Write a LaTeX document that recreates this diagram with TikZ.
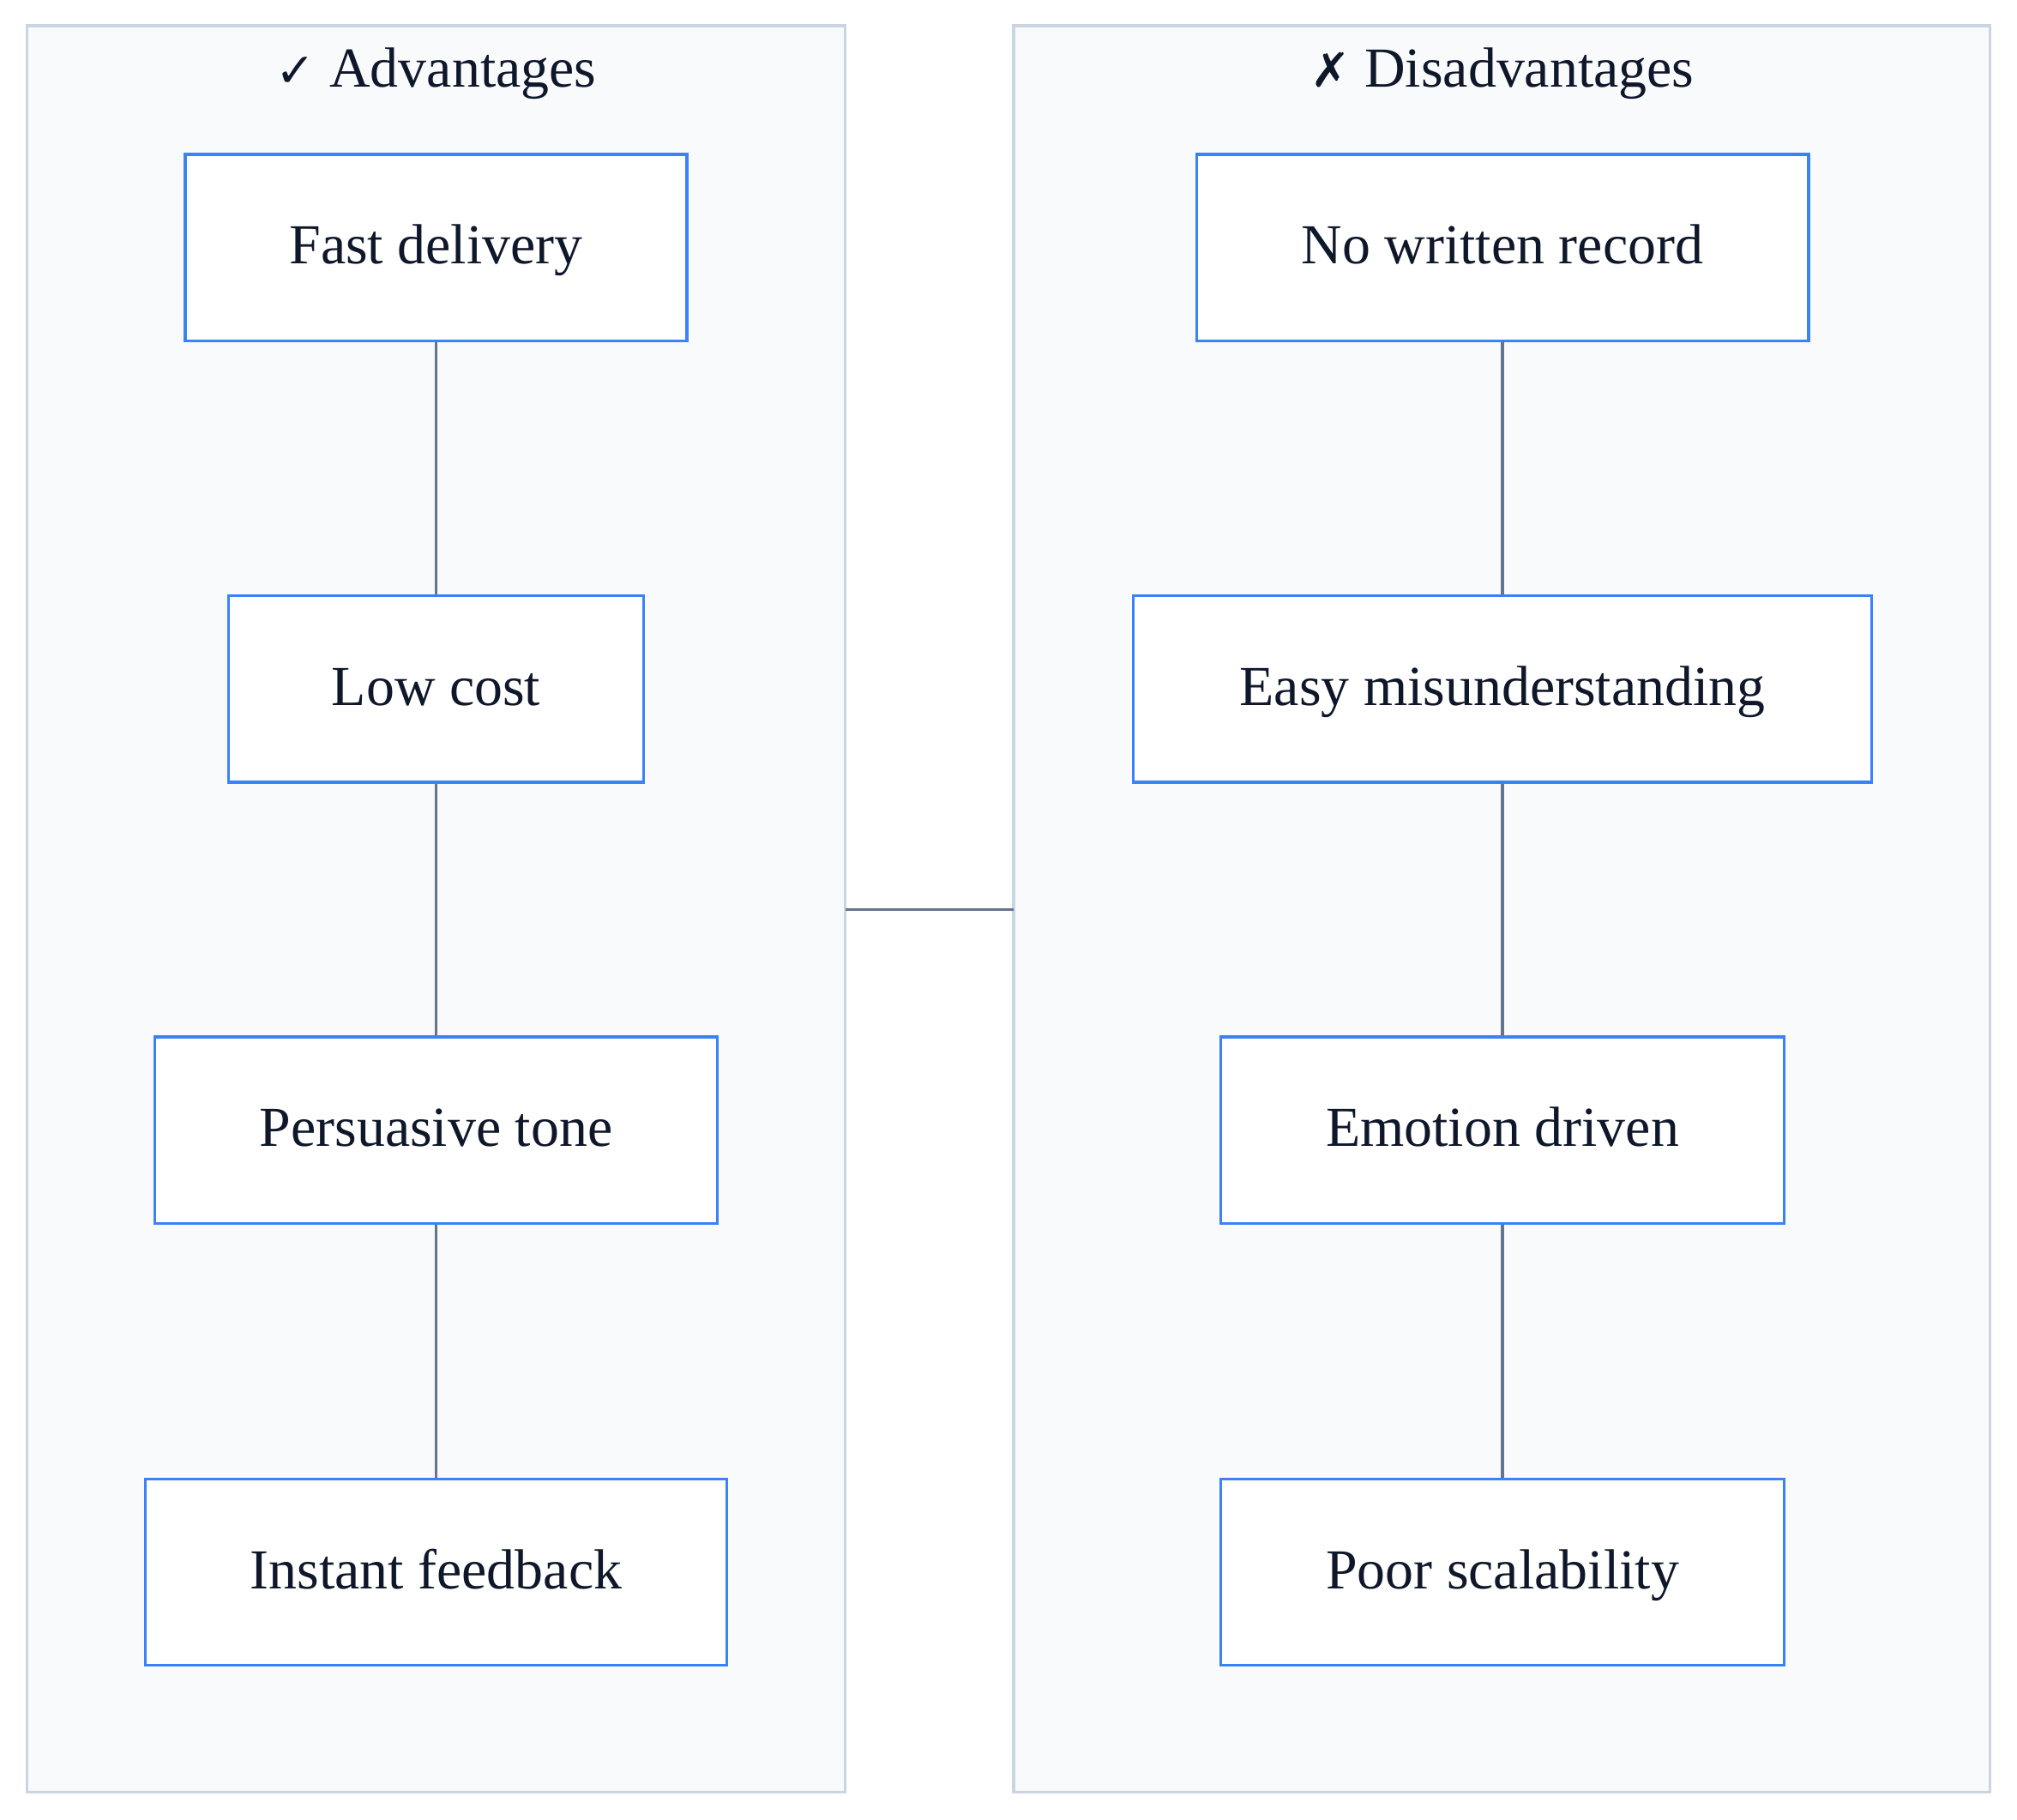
\documentclass[tikz,border=0pt]{standalone}
\usepackage{fontspec}
\setmainfont{Liberation Serif}
\newfontfamily\symfont{DejaVu Sans}
\usetikzlibrary{positioning}
\definecolor{panelfill}{HTML}{F8FAFC}
\definecolor{paneldraw}{HTML}{CBD5E1}
\definecolor{boxdraw}{HTML}{3B82F6}
\definecolor{linkgray}{HTML}{64748B}
\definecolor{inktext}{HTML}{0F172A}
\tikzset{
  panel/.style={draw=paneldraw,fill=panelfill,line width=1.2pt},
  item/.style={draw=boxdraw,fill=white,line width=1.2pt,minimum height=2.9cm,
    text=inktext,font=\fontsize{25}{30}\selectfont,text height=1.5em,text depth=0.05em},
  title/.style={text=inktext,font=\fontsize{25}{30}\selectfont,text height=1.5em,text depth=0.05em},
  link/.style={draw=linkgray,line width=1.2pt}
}
\begin{document}
\begin{tikzpicture}[x=0.02cm,y=-0.02cm]
  \useasboundingbox (0,0) rectangle (1568,1414);
  % panels
  \draw [panel] (21,20) rectangle (657,1393);
  \draw [panel] (788,20) rectangle (1547,1393);
  \coordinate (lside) at (657,707);
  \coordinate (rside) at (788,707);
  \draw [link] (lside) -- (rside);

  \node [title] (advt) at (339,55) {{\symfont\fontsize{21}{25}\selectfont ✓} Advantages};
  \node [title] (disadvt) at (1168,55) {{\symfont\bfseries\fontsize{21}{25}\selectfont ✗} Disadvantages};

  % left column
  \node [item,minimum width=7.8cm] (fast) at (339,192.5) {Fast delivery};
  \node [item,minimum width=6.46cm] (cost) at (339,535.5) {Low cost};
  \node [item,minimum width=8.74cm] (tone) at (339,878.5) {Persuasive tone};
  \node [item,minimum width=9.04cm] (feedback) at (339,1222) {Instant feedback};
  \draw [link] (fast) -- (cost) -- (tone) -- (feedback);

  % right column
  \node [item,minimum width=9.52cm] (record) at (1168,192.5) {No written record};
  \node [item,minimum width=11.48cm] (misund) at (1168,535.5) {Easy misunderstanding};
  \node [item,minimum width=8.76cm] (emotion) at (1168,878.5) {Emotion driven};
  \node [item,minimum width=8.76cm] (scale) at (1168,1222) {Poor scalability};
  \draw [link] (record) -- (misund) -- (emotion) -- (scale);
\end{tikzpicture}
\end{document}
